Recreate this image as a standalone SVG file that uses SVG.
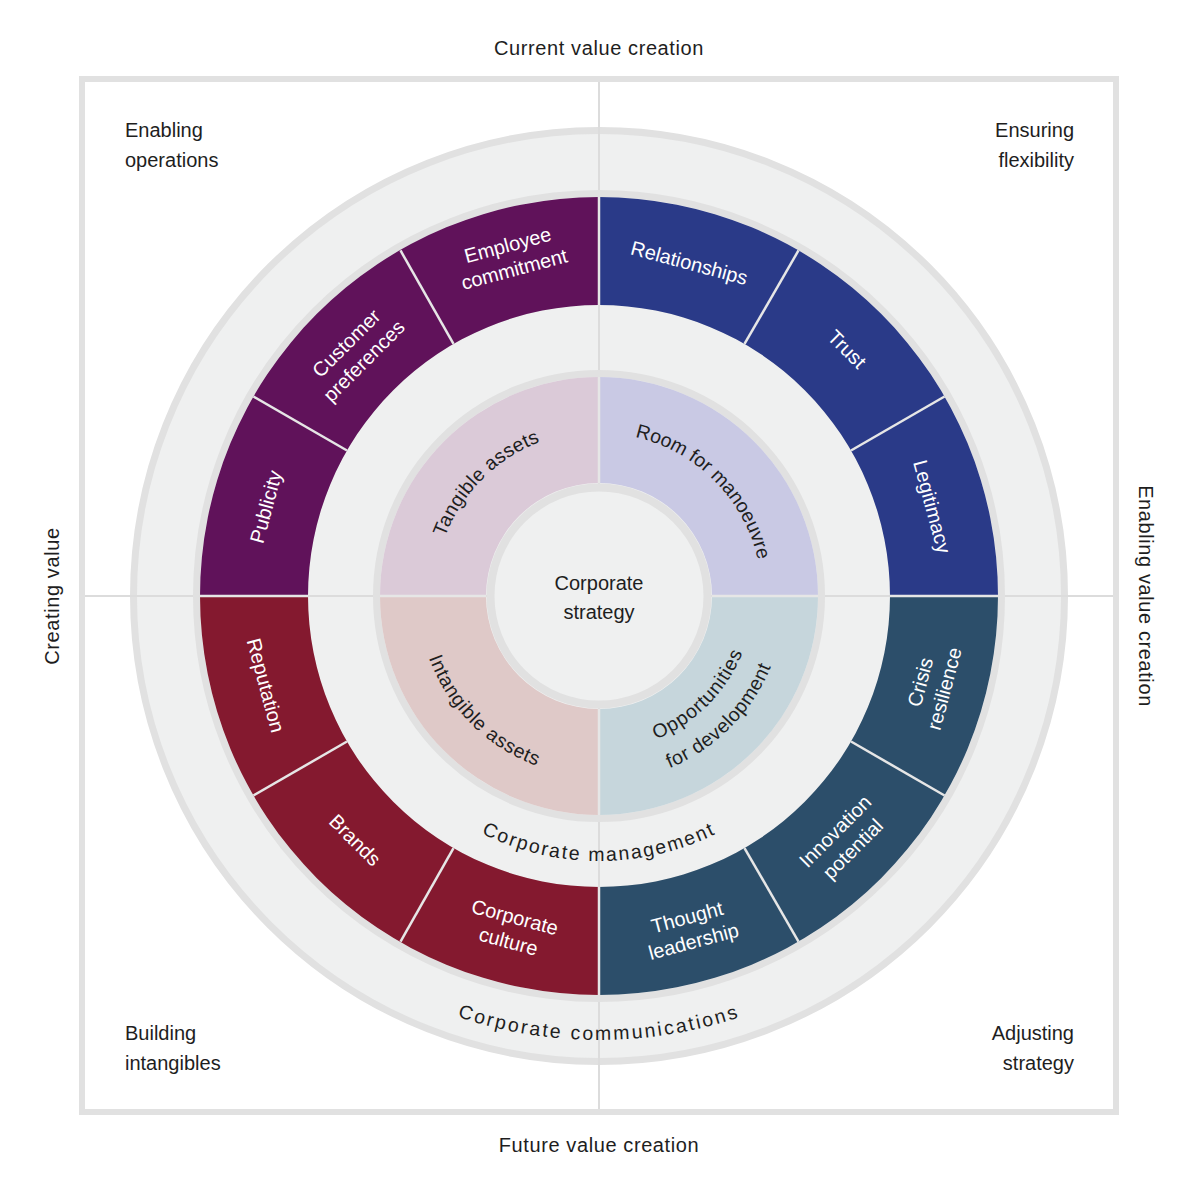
<svg xmlns="http://www.w3.org/2000/svg" xmlns:xlink="http://www.w3.org/1999/xlink" width="1200" height="1194" viewBox="0 0 1200 1194">
<style>
text{font-family:"Liberation Sans",Arial,sans-serif;fill:#1e1e1e;font-size:20px}
.w{fill:#ffffff;font-size:20px}
.p{font-size:19.5px}
.ring{fill:none;stroke:#e1e1e1;stroke-width:7}
.sep{stroke:#e6e6e6;stroke-width:2.5}
.axis{stroke:#dcdcdc;stroke-width:2}
</style>
<defs>
<path id="pTang" d="M 439.62 638.7 A 165 165 0 0 1 641.7 436.62"/>
<path id="pRoom" d="M 556.81 438.55 A 163 163 0 0 1 756.45 638.19"/>
<path id="pIntang" d="M 424.17 549.15 A 181 181 0 0 0 645.85 770.83"/>
<path id="pOpp1" d="M 559.16 744.75 A 154 154 0 0 0 747.75 555.16"/>
<path id="pOpp2" d="M 550.86 775.66 A 186 186 0 0 0 778.66 547.86"/>
<path id="pMgmt" d="M 334 596 A 265 265 0 0 0 864 596"/>
<path id="pComm" d="M 155 596 A 444 444 0 0 0 1043 596"/>
</defs>
<rect x="0" y="0" width="1200" height="1194" fill="#ffffff"/>
<rect id="frame" x="82" y="79" width="1034" height="1033" fill="#ffffff" stroke="#e1e1e1" stroke-width="6"/>

<g id="outer-band">
<circle cx="599" cy="596" r="465.5" fill="#eff0f0" stroke="#e1e1e1" stroke-width="7"/>
</g>

<g id="connectors">
<line class="axis" x1="599" y1="82" x2="599" y2="1109"/>
<line class="axis" x1="85" y1="596" x2="1113" y2="596"/>
</g>

<g id="colored-ring">
<circle class="ring" cx="599" cy="596" r="402.5"/>
<circle class="ring" cx="599" cy="596" r="294.5"/>
<path id="q-purple" d="M 599 197 A 399 399 0 0 0 200 596 L 308 596 A 291 291 0 0 1 599 305 Z" fill="#60125a"/>
<path id="q-blue" d="M 998 596 A 399 399 0 0 0 599 197 L 599 305 A 291 291 0 0 1 890 596 Z" fill="#2a3a88"/>
<path id="q-red" d="M 200 596 A 399 399 0 0 0 599 995 L 599 887 A 291 291 0 0 1 308 596 Z" fill="#84192f"/>
<path id="q-teal" d="M 599 995 A 399 399 0 0 0 998 596 L 890 596 A 291 291 0 0 1 599 887 Z" fill="#2c4e6a"/>
<g>
<line class="sep" x1="944.55" y1="396.5" x2="851.01" y2="450.5"/>
<line class="sep" x1="798.5" y1="250.45" x2="744.5" y2="343.99"/>
<line class="sep" x1="400.5" y1="250.45" x2="453.5" y2="343.99"/>
<line class="sep" x1="253.45" y1="396.5" x2="346.99" y2="450.5"/>
<line class="sep" x1="253.45" y1="795.5" x2="346.99" y2="741.5"/>
<line class="sep" x1="400.5" y1="941.55" x2="453.5" y2="848.01"/>
<line class="sep" x1="798.5" y1="941.55" x2="744.5" y2="848.01"/>
<line class="sep" x1="944.55" y1="795.5" x2="851.01" y2="741.5"/>
<line class="sep" x1="599" y1="197" x2="599" y2="305"/>
<line class="sep" x1="599" y1="887" x2="599" y2="995"/>
<line class="sep" x1="200" y1="596" x2="308" y2="596"/>
<line class="sep" x1="890" y1="596" x2="998" y2="596"/>
</g>
</g>

<g id="pastel-ring">
<circle class="ring" cx="599" cy="596" r="222.5"/>
<path d="M 599 377 A 219 219 0 0 0 380 596 L 486 596 A 113 113 0 0 1 599 483 Z" fill="#dbcad8"/>
<path d="M 818 596 A 219 219 0 0 0 599 377 L 599 483 A 113 113 0 0 1 712 596 Z" fill="#c9c9e4"/>
<path d="M 380 596 A 219 219 0 0 0 599 815 L 599 709 A 113 113 0 0 1 486 596 Z" fill="#dfc9c8"/>
<path d="M 599 815 A 219 219 0 0 0 818 596 L 712 596 A 113 113 0 0 1 599 709 Z" fill="#c6d6dc"/>
<line class="sep" x1="599" y1="377" x2="599" y2="483"/>
<line class="sep" x1="599" y1="709" x2="599" y2="815"/>
<line class="sep" x1="380" y1="596" x2="486" y2="596"/>
<line class="sep" x1="712" y1="596" x2="818" y2="596"/>
</g>

<g id="center">
<circle cx="599" cy="596" r="108.5" fill="#eff0f0" stroke="#e1e1e1" stroke-width="8"/>
<text x="599" y="590" text-anchor="middle">Corporate</text>
<text x="599" y="619" text-anchor="middle">strategy</text>
</g>

<g id="n-tangible"><text class="p" letter-spacing="0.3"><textPath xlink:href="#pTang" href="#pTang" startOffset="50%" text-anchor="middle">Tangible assets</textPath></text></g>
<g id="n-room"><text class="p"><textPath xlink:href="#pRoom" href="#pRoom" startOffset="50%" text-anchor="middle">Room for manoeuvre</textPath></text></g>
<g id="n-intangible"><text class="p" letter-spacing="0.7"><textPath xlink:href="#pIntang" href="#pIntang" startOffset="50%" text-anchor="middle">Intangible assets</textPath></text></g>
<g id="n-opportunities">
<text class="p" letter-spacing="0.8"><textPath xlink:href="#pOpp1" href="#pOpp1" startOffset="50%" text-anchor="middle">Opportunities</textPath></text>
<text class="p" letter-spacing="0.5"><textPath xlink:href="#pOpp2" href="#pOpp2" startOffset="50%" text-anchor="middle">for development</textPath></text>
</g>

<g id="n-mgmt"><text class="p" letter-spacing="1.9"><textPath xlink:href="#pMgmt" href="#pMgmt" startOffset="50%" text-anchor="middle">Corporate management</textPath></text></g>
<g id="n-comm"><text class="p" letter-spacing="2.3"><textPath xlink:href="#pComm" href="#pComm" startOffset="50%" text-anchor="middle">Corporate communications</textPath></text></g>

<g id="n-employee" transform="translate(511,257) rotate(-15)"><text class="w" text-anchor="middle" y="-5.5">Employee</text><text class="w" text-anchor="middle" y="19.5">commitment</text></g>
<g id="n-relationships" transform="translate(689.3,262.8) rotate(15)"><text class="w" text-anchor="middle" y="7">Relationships</text></g>
<g id="n-customer" transform="translate(355.05,352.05) rotate(-45)"><text class="w" text-anchor="middle" y="-5.5">Customer</text><text class="w" text-anchor="middle" y="19.5">preferences</text></g>
<g id="n-trust" transform="translate(846.95,349.05) rotate(45)"><text class="w" text-anchor="middle" y="7">Trust</text></g>
<g id="n-publicity" transform="translate(265.8,506.7) rotate(-75)"><text class="w" text-anchor="middle" y="7">Publicity</text></g>
<g id="n-legitimacy" transform="translate(932.2,506.7) rotate(75)"><text class="w" text-anchor="middle" y="7">Legitimacy</text></g>
<g id="n-reputation" transform="translate(265.8,685.3) rotate(75)"><text class="w" text-anchor="middle" y="7">Reputation</text></g>
<g id="n-crisis" transform="translate(932.2,685.3) rotate(-75)"><text class="w" text-anchor="middle" y="-5.5">Crisis</text><text class="w" text-anchor="middle" y="19.5">resilience</text></g>
<g id="n-brands" transform="translate(355.05,839.95) rotate(45)"><text class="w" text-anchor="middle" y="7">Brands</text></g>
<g id="n-innovation" transform="translate(843.95,839.95) rotate(-45)"><text class="w" text-anchor="middle" y="-5.5">Innovation</text><text class="w" text-anchor="middle" y="19.5">potential</text></g>
<g id="n-culture" transform="translate(511.7,929.2) rotate(15)"><text class="w" text-anchor="middle" y="-5.5">Corporate</text><text class="w" text-anchor="middle" y="19.5">culture</text></g>
<g id="n-thought" transform="translate(690.3,929.2) rotate(-15)"><text class="w" text-anchor="middle" y="-5.5">Thought</text><text class="w" text-anchor="middle" y="19.5">leadership</text></g>

<g id="labels">
<text x="599" y="55" text-anchor="middle" letter-spacing="0.6">Current value creation</text>
<text x="599" y="1152" text-anchor="middle" letter-spacing="0.6">Future value creation</text>
<text transform="translate(59,596) rotate(-90)" text-anchor="middle" letter-spacing="0.6">Creating value</text>
<text transform="translate(1139,596) rotate(90)" text-anchor="middle" letter-spacing="0.6">Enabling value creation</text>
<text x="125" y="137">Enabling</text>
<text x="125" y="167">operations</text>
<text x="1074" y="137" text-anchor="end">Ensuring</text>
<text x="1074" y="167" text-anchor="end">flexibility</text>
<text x="125" y="1040">Building</text>
<text x="125" y="1070">intangibles</text>
<text x="1074" y="1040" text-anchor="end">Adjusting</text>
<text x="1074" y="1070" text-anchor="end">strategy</text>
</g>
</svg>
